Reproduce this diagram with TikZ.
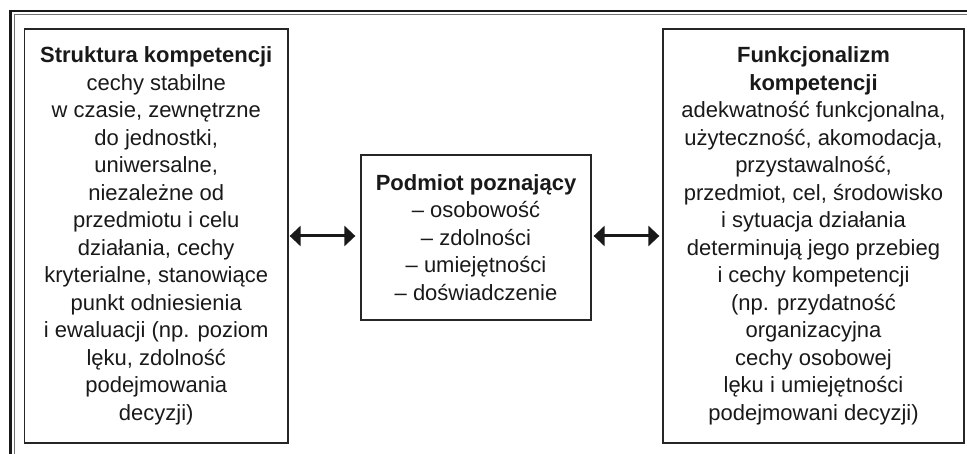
\documentclass[tikz,border=0pt]{standalone}
\usepackage{fontspec}
\setmainfont{Liberation Sans}
\usetikzlibrary{arrows.meta}
\begin{document}
\begin{tikzpicture}[x=1pt,y=-1pt,
  box/.style={draw=black!85, line width=1.3pt, align=center, inner sep=0pt,
    font=\fontsize{22}{27.5}\selectfont, text=black!90},
  arr/.style={{Triangle[length=11pt,width=20pt]}-{Triangle[length=11pt,width=20pt]},
    line width=3pt, black!90}]
\useasboundingbox (0,0) rectangle (967,454);
\draw[line width=2.2pt, black!90] (10.5,454) -- (10.5,11) -- (967,11);
\draw[line width=1pt, black!55] (14,454) -- (14,14.5) -- (967,14.5);
\node[box, minimum width=263.5pt, minimum height=414pt] (L) at (156.25,236)
 {\textbf{Struktura kompetencji}\\cechy stabilne\\w czasie, zewnętrzne\\do jednostki,\\uniwersalne,\\niezależne od\\przedmiotu i celu\\działania, cechy\\kryterialne, stanowiące\\punkt odniesienia\\i ewaluacji (np. poziom\\lęku, zdolność\\podejmowania\\decyzji)};
\node[box, minimum width=230pt, minimum height=165pt] (M) at (476,237.5)
 {\textbf{Podmiot poznający}\\– osobowość\\– zdolności\\– umiejętności\\– doświadczenie};
\node[box, minimum width=301pt, minimum height=414pt] (R) at (813.5,236)
 {\textbf{Funkcjonalizm}\\\textbf{kompetencji}\\adekwatność funkcjonalna,\\użyteczność, akomodacja,\\przystawalność,\\przedmiot, cel, środowisko\\i sytuacja działania\\determinują jego przebieg\\i cechy kompetencji\\(np. przydatność\\organizacyjna\\cechy osobowej\\lęku i umiejętności\\podejmowani decyzji)};
\draw[arr, shorten <=1pt, shorten >=5pt] (L.east) -- (L.east -| M.west);
\draw[arr, shorten <=2pt, shorten >=3pt] (M.east |- L.east) -- (L.east -| R.west);
\end{tikzpicture}
\end{document}
